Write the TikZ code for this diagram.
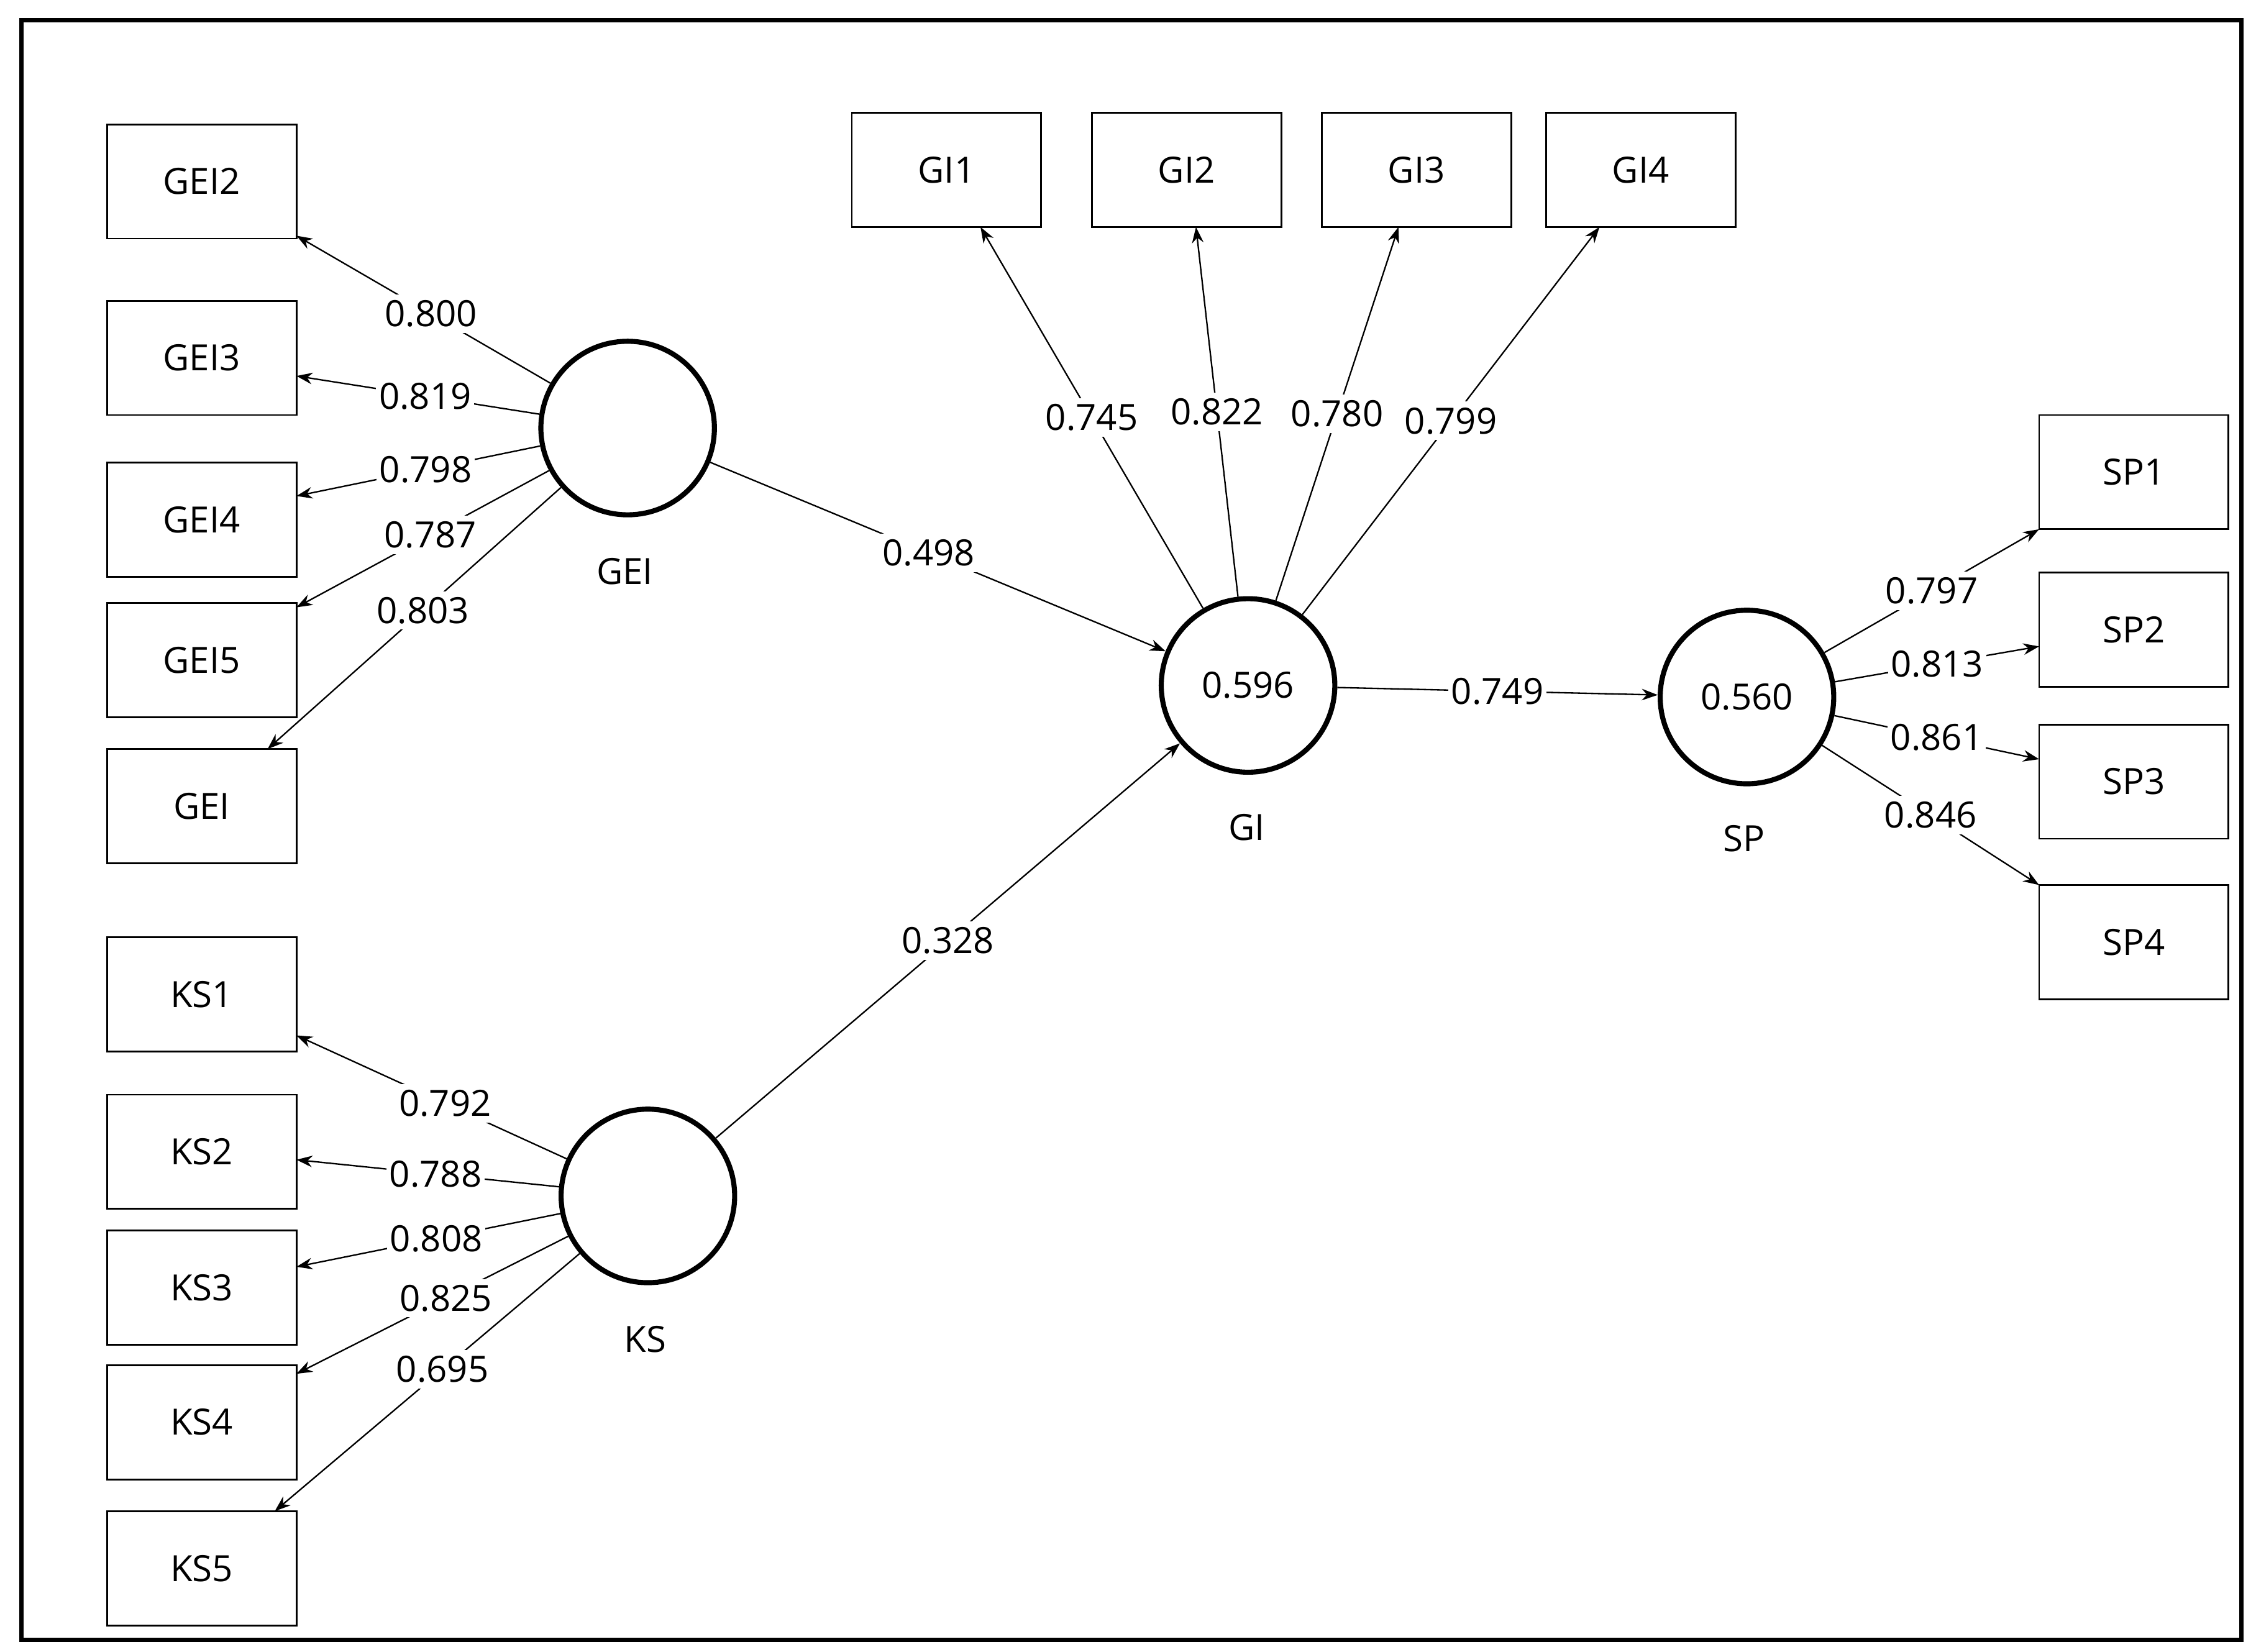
\documentclass[tikz,border=0pt]{standalone}
\usepackage{fontspec}
\setmainfont{Open Sans}
\usetikzlibrary{arrows.meta}
\pgfdeclarelayer{fg}
\pgfsetlayers{main,fg}
\begin{document}
\begin{tikzpicture}[x=1pt,y=-1pt,
  box/.style={draw,line width=1.2pt,minimum width=131pt,minimum height=79pt,inner sep=0pt,font=\fontsize{25}{30}\selectfont},
  lat/.style={draw,circle,line width=3.5pt,minimum size=120pt,inner sep=0pt,font=\fontsize{25}{30}\selectfont},
  lab/.style={font=\fontsize{25}{30}\selectfont},
  ar/.style={line width=1pt,-{Stealth[length=11pt,width=8pt]}},
  w/.style={fill=white,inner xsep=2pt,inner ysep=4pt,font=\fontsize{25}{30}\selectfont}]
\useasboundingbox (0,0) rectangle (1560,1142);
\draw[line width=3pt] (15,14) rectangle (1550,1134);
\foreach \n/\x/\y in {GEI2/139.5/125.5,GEI3/139.5/247.5,GEI4/139.5/359.5,GEI5/139.5/456.5,GEI/139.5/557.5,
 KS1/139.5/687.5,KS2/139.5/796.5,KS3/139.5/890.5,KS4/139.5/983.5,KS5/139.5/1084.5,
 GI1/654.5/117.5,GI2/820.5/117.5,GI3/979.5/117.5,GI4/1134.5/117.5,
 SP1/1475.5/326.5,SP2/1475.5/435.5,SP3/1475.5/540.5,SP4/1475.5/651.5}
  \node[box] (b\n) at (\x,\y) {\n};
\node[lat] (cGEI) at (434,296) {};
\node[lat] (cKS) at (448,827) {};
\node[lat] (cGI) at (863,474) {0.596};
\node[lat] (cSP) at (1208,482) {0.560};
\node[lab] (lGEI) at (432,395) {GEI};
\node[lab] (lKS) at (446,926) {KS};
\node[lab] (lGI) at (862,572) {GI};
\node[lab] (lSP) at (1206,580) {SP};
\foreach \n/\x/\y in {e1/205/163,e2/205/260,e3/205/343,e4/205/420,e5/185/518,
 k1/205/716,k2/205/802,k3/205/876,k4/205/950,k5/190/1045,
 g1/678/157,g2/827/157,g3/967/157,g4/1106/157,
 s1/1410/366,s2/1410/447,s3/1410/525,s4/1410/612}
  \coordinate (\n) at (\x,\y);
\foreach \a/\b/\p/\t in {cGEI/e1/0.47/0.800,cGEI/e2/0.47/0.819,cGEI/e3/0.47/0.798,cGEI/e4/0.47/0.787,cGEI/e5/0.47/0.803,
 cKS/k1/0.45/0.792,cKS/k2/0.47/0.788,cKS/k3/0.47/0.808,cKS/k4/0.45/0.825,cKS/k5/0.45/0.695,
 cGI/g1/0.5/0.745,cGI/g2/0.5/0.822,cGI/g3/0.5/0.780,cGI/g4/0.5/0.799,
 cSP/s1/0.5/0.797,cSP/s2/0.5/0.813,cSP/s3/0.5/0.861,cSP/s4/0.5/0.846,
 cGEI/cGI/0.48/0.498,cKS/cGI/0.5/0.328,cGI/cSP/0.5/0.749}
 {\draw[ar] (\a) -- (\b) coordinate[pos=\p] (m);
  \begin{pgfonlayer}{fg}\node[w] at (m) {\t};\end{pgfonlayer}}
\end{tikzpicture}
\end{document}
